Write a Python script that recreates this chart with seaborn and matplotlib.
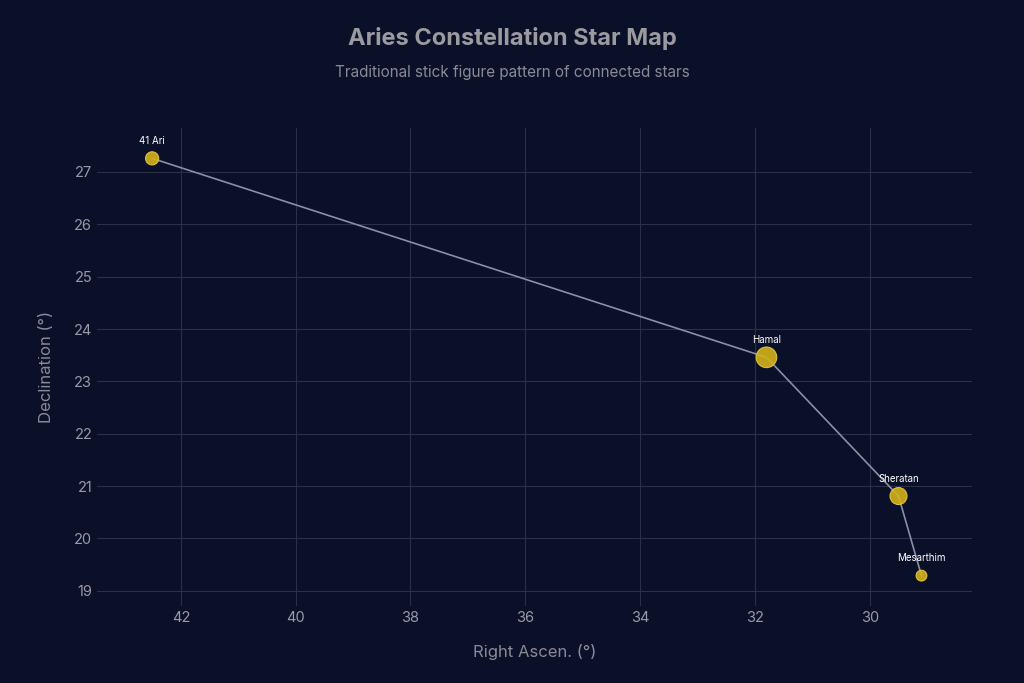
import matplotlib
matplotlib.use("Agg")
import matplotlib.pyplot as plt
import seaborn as sns
import pandas as pd

names = ["41 Ari", "Hamal", "Sheratan", "Mesarthim"]
ra = [42.5, 31.8, 29.5, 29.1]
dec = [27.26, 23.46, 20.81, 19.29]
mag = [3.6, 2.0, 2.64, 3.9]

df = pd.DataFrame({"name": names, "ra": ra, "dec": dec, "mag": mag})
df["size"] = [90, 220, 150, 60]

bg = "#0b1029"
sns.set_theme(style="dark")
plt.rcParams['font.family'] = ['Inter', 'DejaVu Sans']
fig = plt.figure(figsize=(10.24, 6.83), dpi=100, facecolor=bg)
ax = fig.add_axes([97/1024, 1-606/683, 875/1024, 478/683])
ax.set_facecolor(bg)

sns.lineplot(data=df, x="ra", y="dec", sort=False, color="#8a8fa3", linewidth=1.2, ax=ax)
sns.scatterplot(data=df, x="ra", y="dec", size="size", sizes=(60, 220), color="#d4b21a",
                edgecolor="#e8c840", linewidth=0.8, alpha=0.9, legend=False, ax=ax, zorder=3)
for n, x, y in zip(names, ra, dec):
    ax.annotate(n, (x, y), xytext=(0, 9), textcoords="offset points", ha="center",
                va="bottom", color="white", fontsize=7)

ax.set_xlim(43.46, 28.22)
ax.set_ylim(18.71, 27.84)
ax.set_xticks([42, 40, 38, 36, 34, 32, 30])
ax.set_yticks(range(19, 28))
ax.grid(True, color="#2a3048", linewidth=0.8)
for s in ax.spines.values():
    s.set_visible(False)
ax.tick_params(colors="#9a9aa6", labelsize=10.5, length=0)
ax.set_xlabel("Right Ascen. (°)", color="#8a8a96", fontsize=12, labelpad=14)
ax.set_ylabel("Declination (°)", color="#8a8a96", fontsize=12, labelpad=14)

fig.text(0.5, 1-38/683, "Aries Constellation Star Map", ha="center", va="center",
         color="#9a9aa0", fontsize=17, fontweight="bold")
fig.text(0.5, 1-73/683, "Traditional stick figure pattern of connected stars", ha="center",
         va="center", color="#8a8a96", fontsize=11)

fig.savefig("out.png", dpi=100, facecolor=bg)
